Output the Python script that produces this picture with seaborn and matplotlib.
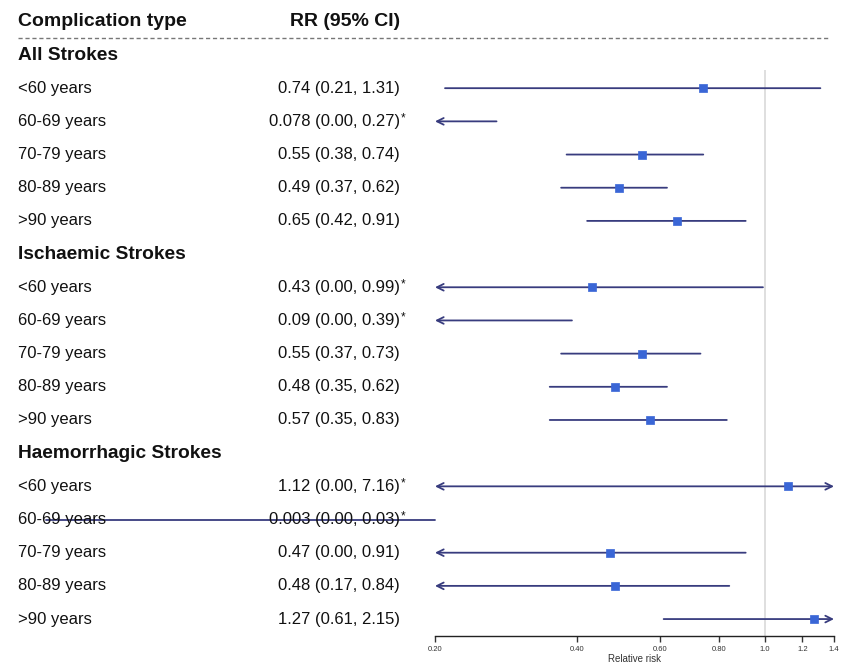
import numpy as np
import pandas as pd
import seaborn as sns
import matplotlib.pyplot as plt
from matplotlib.transforms import blended_transform_factory
from matplotlib.ticker import FixedLocator, NullLocator, FixedFormatter

# Data
groups = ["All Strokes", "Ischaemic Strokes", "Haemorrhagic Strokes"]
ages = ["<60 years", "60-69 years", "70-79 years", "80-89 years", ">90 years"]

rr = [0.74, 0.078, 0.55, 0.49, 0.65,
      0.43, 0.09, 0.55, 0.48, 0.57,
      1.12, 0.003, 0.47, 0.48, 1.27]
lo = [0.21, 0.00, 0.38, 0.37, 0.42,
      0.00, 0.00, 0.37, 0.35, 0.35,
      0.00, 0.00, 0.00, 0.17, 0.61]
hi = [1.31, 0.27, 0.74, 0.62, 0.91,
      0.99, 0.39, 0.73, 0.62, 0.83,
      7.16, 0.03, 0.91, 0.84, 2.15]
rr_text = ["0.74 (0.21, 1.31)", "0.078 (0.00, 0.27)", "0.55 (0.38, 0.74)",
           "0.49 (0.37, 0.62)", "0.65 (0.42, 0.91)",
           "0.43 (0.00, 0.99)", "0.09 (0.00, 0.39)", "0.55 (0.37, 0.73)",
           "0.48 (0.35, 0.62)", "0.57 (0.35, 0.83)",
           "1.12 (0.00, 7.16)", "0.003 (0.00, 0.03)", "0.47 (0.00, 0.91)",
           "0.48 (0.17, 0.84)", "1.27 (0.61, 2.15)"]
flagged = [False, True, False, False, False,
           True, True, False, False, False,
           True, True, False, False, False]

x_ticks = [0.2, 0.4, 0.6, 0.8, 1.0, 1.2, 1.4]
x_tick_labels = ["0.20", "0.40", "0.60", "0.80", "1.0", "1.2", "1.4"]

# row positions: group header then its five age rows
rows = []
group_rows = []
r = 1
for g in groups:
    group_rows.append(r)
    r += 1
    for a in ages:
        rows.append(r)
        r += 1

df = pd.DataFrame({"row": rows, "rr": rr, "lo": lo, "hi": hi,
                   "label": ages * len(groups), "text": rr_text, "flag": flagged})

sns.set_style("white")
plt.rcParams['font.family'] = ['Liberation Sans', 'DejaVu Sans']

W, H = 843, 671
fig = plt.figure(figsize=(W / 100, H / 100), dpi=100)
ax = fig.add_axes([435 / W, 1 - 636 / H, 399 / W, (636 - 70) / H])

xmin, xmax = x_ticks[0], x_ticks[-1]
ax.set_xscale("log")
ax.set_xlim(xmin, xmax)
ax.set_ylim(1 + (636 - 55) / 33.18, 1 + (70 - 55) / 33.18)

line_col = "#383c7e"
box_col = "#3a66d6"

ax.axvline(1.0, color="#d9d9d9", lw=1.2, zorder=1)

for _, d in df.iterrows():
    y = d["row"]
    left_cut = d["lo"] < xmin
    right_cut = d["hi"] > xmax
    if d["hi"] < xmin:
        # interval entirely left of the axis, drawn unclipped as in the source
        ax.plot([d["hi"], xmin], [y, y], color=line_col, lw=1.3, clip_on=False, zorder=2)
        continue
    a = max(d["lo"], xmin)
    b = min(d["hi"], xmax)
    if left_cut and right_cut:
        style = "<->"
    elif left_cut:
        style = "<-"
    elif right_cut:
        style = "->"
    else:
        style = "-"
    ax.annotate("", xy=(b, y), xytext=(a, y), annotation_clip=False,
                arrowprops=dict(arrowstyle=style, color=line_col, lw=1.3,
                                shrinkA=0, shrinkB=0, mutation_scale=12))

visible = df[(df["rr"] >= xmin) & (df["rr"] <= xmax)]
sns.scatterplot(data=visible, x="rr", y="row", marker="s", s=26, color=box_col,
                edgecolor=box_col, linewidth=0.5, zorder=3, ax=ax, legend=False)

# axis styling
for s in ["top", "left", "right"]:
    ax.spines[s].set_visible(False)
ax.spines["bottom"].set_color("#222222")
ax.spines["bottom"].set_linewidth(1.0)
ax.xaxis.set_major_locator(FixedLocator(x_ticks))
ax.xaxis.set_major_formatter(FixedFormatter(x_tick_labels))
ax.xaxis.set_minor_locator(NullLocator())
ax.tick_params(axis="x", direction="out", length=4, width=1, labelsize=5.5,
               colors="#333333", pad=3, bottom=True)
ax.set_yticks([])
ax.set_xlabel("Relative risk", fontsize=7, labelpad=1, color="#333333")
ax.set_ylabel("")

# table text
tr = blended_transform_factory(fig.transFigure, ax.transData)
lx = 18 / W
rx = 400 / W
ax.text(lx, 0, "Complication type", transform=tr, fontsize=14, fontweight="bold",
        va="center", ha="left", clip_on=False, color="#111111")
ax.text(rx, 0, "RR (95% CI)", transform=tr, fontsize=14, fontweight="bold",
        va="center", ha="right", clip_on=False, color="#111111")
ax.plot([lx, 830 / W], [0.5, 0.5], transform=tr, color="#777777", lw=1.0,
        ls=(0, (3, 2)), clip_on=False)
for g, gr in zip(groups, group_rows):
    ax.text(lx, gr, g, transform=tr, fontsize=13.8, fontweight="bold",
            va="center", ha="left", clip_on=False, color="#111111")
for _, d in df.iterrows():
    ax.text(lx, d["row"], d["label"], transform=tr, fontsize=12, va="center",
            ha="left", clip_on=False, color="#111111")
    ax.text(rx, d["row"], d["text"], transform=tr, fontsize=12, va="center",
            ha="right", clip_on=False, color="#111111")
    if d["flag"]:
        ax.text(rx + 0.5 / W, d["row"] + 0.0, "*", transform=tr, fontsize=8.5,
                va="baseline", ha="left", clip_on=False, color="#111111")

fig.savefig("out.png", dpi=100, facecolor="white")
